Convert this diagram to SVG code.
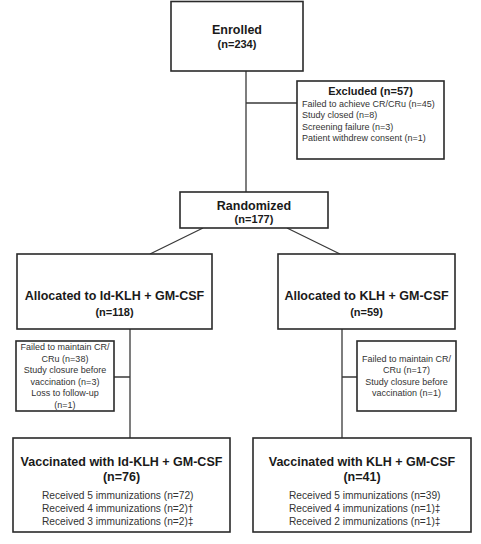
<svg xmlns="http://www.w3.org/2000/svg" width="481" height="544" viewBox="0 0 481 544">
<style>
.box{fill:#fff;stroke:#2a2a2a;stroke-width:1.6}
.ln{fill:none;stroke:#3a3a3a;stroke-width:1.3}
text{font-family:"Liberation Sans",Arial,sans-serif;fill:#1a1a1a}
.t{font-weight:bold;font-size:12.5px;text-anchor:middle}
.n{font-weight:bold;font-size:11px;text-anchor:middle}
.s{font-size:9px;text-anchor:middle;fill:#333}
.l{font-size:9px;fill:#333}
.r{font-size:10.2px;fill:#333}
</style>
<rect width="481" height="544" fill="#fff"/>
<g id="connectors">
<path class="ln" d="M246 71V192M246 103H297M203 228L150 254M287 228L340 254M130 329V438M114 377H130M342 329V438M342 377H357"/>
</g>
<g id="enrolled">
<rect class="box" x="171" y="1.5" width="132" height="69.5"/>
<text class="t" x="237" y="34">Enrolled</text>
<text class="n" x="237" y="48">(n=234)</text>
</g>
<g id="excluded">
<rect class="box" x="297" y="81" width="147" height="78"/>
<text class="t" x="370.5" y="95" style="font-size:11px">Excluded (n=57)</text>
<text class="l" x="302" y="106.5">Failed to achieve CR/CRu (n=45)</text>
<text class="l" x="302" y="118">Study closed (n=8)</text>
<text class="l" x="302" y="129.5">Screening failure (n=3)</text>
<text class="l" x="302" y="141">Patient withdrew consent (n=1)</text>
</g>
<g id="randomized">
<rect class="box" x="180" y="192" width="148" height="36"/>
<text class="t" x="254" y="209.5">Randomized</text>
<text class="n" x="254" y="223">(n=177)</text>
</g>
<g id="alloc-idklh">
<rect class="box" x="17" y="254" width="195" height="75"/>
<text class="t" x="114.5" y="300">Allocated to Id-KLH + GM-CSF</text>
<text class="n" x="114.5" y="316">(n=118)</text>
</g>
<g id="alloc-klh">
<rect class="box" x="278" y="254" width="177" height="75"/>
<text class="t" x="366.5" y="300">Allocated to KLH + GM-CSF</text>
<text class="n" x="366.5" y="316">(n=59)</text>
</g>
<g id="lost-idklh">
<rect class="box" x="16" y="341" width="98" height="70"/>
<text class="s" x="65" y="350">Failed to maintain CR/</text>
<text class="s" x="65" y="361.5">CRu (n=38)</text>
<text class="s" x="65" y="373">Study closure before</text>
<text class="s" x="65" y="384.5">vaccination (n=3)</text>
<text class="s" x="65" y="396">Loss to follow-up</text>
<text class="s" x="65" y="407.5">(n=1)</text>
</g>
<g id="lost-klh">
<rect class="box" x="357" y="341" width="99" height="70"/>
<text class="s" x="406.5" y="361.5">Failed to maintain CR/</text>
<text class="s" x="406.5" y="373">CRu (n=17)</text>
<text class="s" x="406.5" y="384.5">Study closure before</text>
<text class="s" x="406.5" y="396">vaccination (n=1)</text>
</g>
<g id="vacc-idklh">
<rect class="box" x="13" y="438" width="217" height="94"/>
<text class="t" x="121.5" y="466">Vaccinated with Id-KLH + GM-CSF</text>
<text class="t" x="121.5" y="481">(n=76)</text>
<text class="r" x="42" y="499">Received 5 immunizations (n=72)</text>
<text class="r" x="42" y="512">Received 4 immunizations (n=2)†</text>
<text class="r" x="42" y="525">Received 3 immunizations (n=2)‡</text>
</g>
<g id="vacc-klh">
<rect class="box" x="253" y="438" width="218" height="94"/>
<text class="t" x="362" y="466">Vaccinated with KLH + GM-CSF</text>
<text class="t" x="362" y="481">(n=41)</text>
<text class="r" x="289" y="499">Received 5 immunizations (n=39)</text>
<text class="r" x="289" y="512">Received 4 immunizations (n=1)‡</text>
<text class="r" x="289" y="525">Received 2 immunizations (n=1)‡</text>
</g>
</svg>
